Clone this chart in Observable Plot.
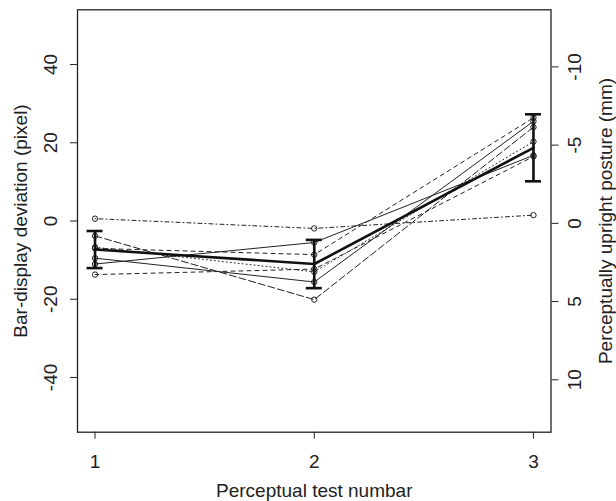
<!DOCTYPE html>
<html>
<head>
<meta charset="utf-8">
<script src="https://cdn.jsdelivr.net/npm/d3@7"></script>
<script src="https://cdn.jsdelivr.net/npm/@observablehq/plot@0.6"></script>
<style>
  html, body { margin: 0; padding: 0; background: #fff; }
  #chart svg { display: block; }
</style>
</head>
<body>
<div id="chart"></div>
<script>
// ---- data ----
const tests = [1, 2, 3];
const subjectNames = ["S1", "S2", "S3", "S4", "S5", "S6", "S7"];
const s1 = [0.6, -1.9, 1.5];
const s2 = [-13.7, -12.3, 16.5];
const s3 = [-3.8, -20.1, 24.0];
const s4 = [-11.0, -5.5, 16.8];
const s5 = [-9.5, -15.6, 25.5];
const s6 = [-6.7, -13.0, 20.3];
const s7 = [-7.0, -8.6, 26.4];
const subjectValues = [s1, s2, s3, s4, s5, s6, s7];
const subjectLty = ["dotdash", "dashed", "longdash", "solid", "solid", "dotted", "dashed"];

const yTicks = [-40, -20, 0, 20, 40];
const yTickLabels = ["-40", "-20", "0", "20", "40"];
const mmTicks = [-10, -5, 0, 5, 10];
const mmTickLabels = ["-10", "-5", "0", "5", "10"];
const xTickLabels = ["1", "2", "3"];

const xTitle = "Perceptual test numbar";
const yTitle = "Bar-display deviation (pixel)";
const y2Title = "Perceptually upright posture (mm)";

// conversion between the right axis (mm) and the left axis (pixel)
const pixelPerMm = 4;
const mmOffset = 0.6;

// ---- derived tables ----
const dashes = {solid: null, dashed: "4,4", dotted: "1,3", dotdash: "1,3,4,3", longdash: "7,3"};
const rows = [];
subjectValues.forEach((vals, i) => {
  vals.forEach((v, j) => rows.push({subject: subjectNames[i], lty: subjectLty[i], test: tests[j], value: v}));
});
const summary = tests.map((t, j) => {
  const vals = subjectValues.map(s => s[j]);
  const m = d3.mean(vals), sd = d3.deviation(vals);
  return {test: t, mean: m, lo: m - sd, hi: m + sd};
});
const mmPos = mmTicks.map(m => -mmOffset - pixelPerMm * m);

const W = 616, H = 501;
const mL = 77, mR = 65.5, mT = 9.3, mB = 69.3;
const xDomain = [0.92, 3.08];
const capHalf = 8 * (xDomain[1] - xDomain[0]) / (W - mL - mR);
const font = "'Liberation Sans', Arial, Helvetica, sans-serif";
const fs = 19;
const txt = {fill: "#222", fontSize: fs, textAnchor: "middle", lineAnchor: "middle"};

const lineMarks = subjectNames.map((name, i) =>
  Plot.line(rows.filter(r => r.subject === name), {
    x: "test", y: "value", stroke: "#222", strokeWidth: 1,
    strokeDasharray: dashes[subjectLty[i]]
  })
);

const chart = Plot.plot({
  width: W, height: H,
  marginLeft: mL, marginRight: mR, marginTop: mT, marginBottom: mB,
  style: {fontFamily: font, fontSize: fs + "px", color: "#222", background: "#fff"},
  x: {domain: xDomain, label: null},
  y: {domain: [-54, 54], label: null},
  marks: [
    Plot.frame({stroke: "#222", strokeWidth: 1.3}),
    Plot.axisX(tests, {tickSize: 7, tickFormat: () => "", stroke: "#222", label: null}),
    Plot.axisY(yTicks, {anchor: "left", tickSize: 7, tickFormat: () => "", stroke: "#222", label: null}),
    Plot.axisY(mmPos, {anchor: "right", tickSize: 7, tickFormat: () => "", stroke: "#222", label: null}),
    Plot.text(tests, {x: d => d, frameAnchor: "bottom", dy: 30, text: (d, i) => xTickLabels[i], ...txt}),
    Plot.text(yTicks, {y: d => d, frameAnchor: "left", dx: -26.5, rotate: -90, text: (d, i) => yTickLabels[i], ...txt}),
    Plot.text(mmPos, {y: d => d, frameAnchor: "right", dx: 23.5, rotate: -90, text: (d, i) => mmTickLabels[i], ...txt}),
    Plot.text([xTitle], {frameAnchor: "bottom", dy: 58.5, text: d => d, ...txt}),
    Plot.text([yTitle], {frameAnchor: "left", dx: -57, rotate: -90, text: d => d, ...txt}),
    Plot.text([y2Title], {frameAnchor: "right", dx: 54.5, rotate: -90, text: d => d, ...txt}),
    ...lineMarks,
    Plot.dot(rows, {x: "test", y: "value", r: 2.7, stroke: "#222", strokeWidth: 1, fill: "none"}),
    Plot.line(summary, {x: "test", y: "mean", stroke: "#111", strokeWidth: 2.6}),
    Plot.ruleX(summary, {x: "test", y1: "lo", y2: "hi", stroke: "#111", strokeWidth: 2.6}),
    Plot.ruleY(summary, {y: "lo", x1: d => d.test - capHalf, x2: d => d.test + capHalf, stroke: "#111", strokeWidth: 2.6}),
    Plot.ruleY(summary, {y: "hi", x1: d => d.test - capHalf, x2: d => d.test + capHalf, stroke: "#111", strokeWidth: 2.6})
  ]
});
document.getElementById("chart").appendChild(chart);
</script>
</body>
</html>
